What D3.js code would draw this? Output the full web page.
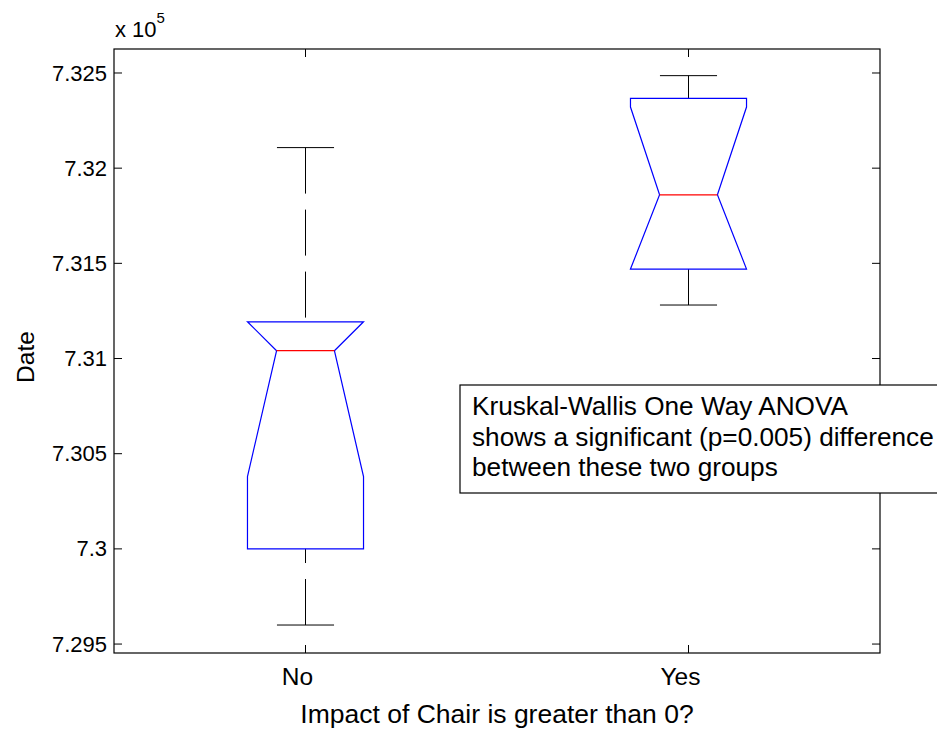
<!DOCTYPE html>
<html>
<head>
<meta charset="utf-8">
<script src="https://cdn.jsdelivr.net/npm/d3@7"></script>
<style>
  html, body { margin: 0; padding: 0; background: #fff; }
  svg { display: block; font-family: "Liberation Sans", Arial, Helvetica, sans-serif; }
</style>
</head>
<body>
<svg id="chart" width="937" height="730"></svg>
<script>
// ---- data (values in units of 1e5 days) ----
const categories   = ["No", "Yes"];
const lowerWhisker = [7.2960, 7.31281];
const q1           = [7.3000, 7.3147];
const notchLow     = [7.3038, 7.3140];
const median       = [7.31041, 7.3186];
const notchHigh    = [7.3170, 7.32321];
const q3           = [7.31193, 7.32367];
const upperWhisker = [7.32108, 7.32486];
const yTicks       = [7.295, 7.3, 7.305, 7.31, 7.315, 7.32, 7.325];
const yTickLabels  = ["7.295", "7.3", "7.305", "7.31", "7.315", "7.32", "7.325"];
const annotationLines = [
  "Kruskal-Wallis One Way ANOVA",
  "shows a significant (p=0.005) difference",
  "between these two groups"
];

const svg = d3.select("#chart");
const L = 114, R = 880, T = 49, B = 653;
const x = d3.scaleLinear().domain([0.5, 2.5]).range([L, R]);
const y = d3.scaleLinear().domain([7.29453, 7.32626]).range([B, T]);
const tickLen = 8;
const halfW = 0.1515, innerW = 0.0755, capW = 0.0745;

// axes box
svg.append("rect").attr("x", L).attr("y", T).attr("width", R - L).attr("height", B - T)
  .attr("fill", "#fff").attr("stroke", "#000").attr("stroke-width", 1.2);

// y ticks
const yAxisL = d3.axisLeft(y).tickValues(yTicks).tickSize(0)
  .tickFormat((d, i) => yTickLabels[i]).tickPadding(7);
const gy = svg.append("g").attr("transform", `translate(${L},0)`).call(yAxisL);
gy.select(".domain").remove();
gy.selectAll("text").attr("font-size", 22).attr("fill", "#000")
  .attr("font-family", "Liberation Sans, Arial, sans-serif");
yTicks.forEach(v => {
  svg.append("line").attr("x1", L).attr("x2", L + tickLen).attr("y1", y(v)).attr("y2", y(v)).attr("stroke", "#000");
  svg.append("line").attr("x1", R).attr("x2", R - tickLen).attr("y1", y(v)).attr("y2", y(v)).attr("stroke", "#000");
});
// x ticks
categories.forEach((c, i) => {
  const cx = x(i + 1);
  svg.append("line").attr("x1", cx).attr("x2", cx).attr("y1", B).attr("y2", B - tickLen).attr("stroke", "#000");
  svg.append("line").attr("x1", cx).attr("x2", cx).attr("y1", T).attr("y2", T + tickLen).attr("stroke", "#000");
  svg.append("text").attr("x", cx - 8).attr("y", 685).attr("text-anchor", "middle")
    .attr("font-size", 24.5).text(c);
});

// boxes
categories.forEach((c, i) => {
  const p = i + 1;
  const nLo = Math.max(notchLow[i], q1[i]);
  const nHi = Math.min(notchHigh[i], q3[i]);
  // whiskers (dashed, drawn from caps toward box)
  svg.append("line").attr("x1", x(p)).attr("x2", x(p))
    .attr("y1", y(upperWhisker[i])).attr("y2", y(q3[i]))
    .attr("stroke", "#000").attr("stroke-dasharray", "46,16");
  svg.append("line").attr("x1", x(p)).attr("x2", x(p))
    .attr("y1", y(lowerWhisker[i])).attr("y2", y(q1[i]))
    .attr("stroke", "#000").attr("stroke-dasharray", "46,16");
  // caps
  [upperWhisker[i], lowerWhisker[i]].forEach(v => {
    svg.append("line").attr("x1", x(p - capW)).attr("x2", x(p + capW))
      .attr("y1", y(v)).attr("y2", y(v)).attr("stroke", "#000");
  });
  // notched box
  const pts = [
    [p - halfW, q1[i]], [p - halfW, nLo], [p - innerW, median[i]], [p - halfW, nHi], [p - halfW, q3[i]],
    [p + halfW, q3[i]], [p + halfW, nHi], [p + innerW, median[i]], [p + halfW, nLo], [p + halfW, q1[i]]
  ];
  svg.append("path").attr("d", d3.line().x(d => x(d[0])).y(d => y(d[1]))(pts) + "Z")
    .attr("fill", "none").attr("stroke", "#0000ff").attr("stroke-width", 1.2);
  // median
  svg.append("line").attr("x1", x(p - innerW)).attr("x2", x(p + innerW))
    .attr("y1", y(median[i])).attr("y2", y(median[i])).attr("stroke", "#ff0000").attr("stroke-width", 1.2);
});

// exponent label
const ex = svg.append("text").attr("x", 115).attr("y", 37).attr("font-size", 22);
ex.append("tspan").text("x 10");
ex.append("tspan").attr("dy", -14).attr("font-size", 15).text("5");

// axis labels
svg.append("text").attr("transform", "translate(34,357) rotate(-90)")
  .attr("text-anchor", "middle").attr("font-size", 24.5).text("Date");
svg.append("text").attr("x", (L + R) / 2).attr("y", 723).attr("text-anchor", "middle")
  .attr("font-size", 26.5).text("Impact of Chair is greater than 0?");

// annotation
svg.append("rect").attr("x", 460).attr("y", 385).attr("width", 500).attr("height", 108)
  .attr("fill", "#fff").attr("stroke", "#000").attr("stroke-width", 1.2);
annotationLines.forEach((t, k) => {
  svg.append("text").attr("x", 472).attr("y", 415 + k * 30.5).attr("font-size", 26.2).text(t);
});
</script>
</body>
</html>
